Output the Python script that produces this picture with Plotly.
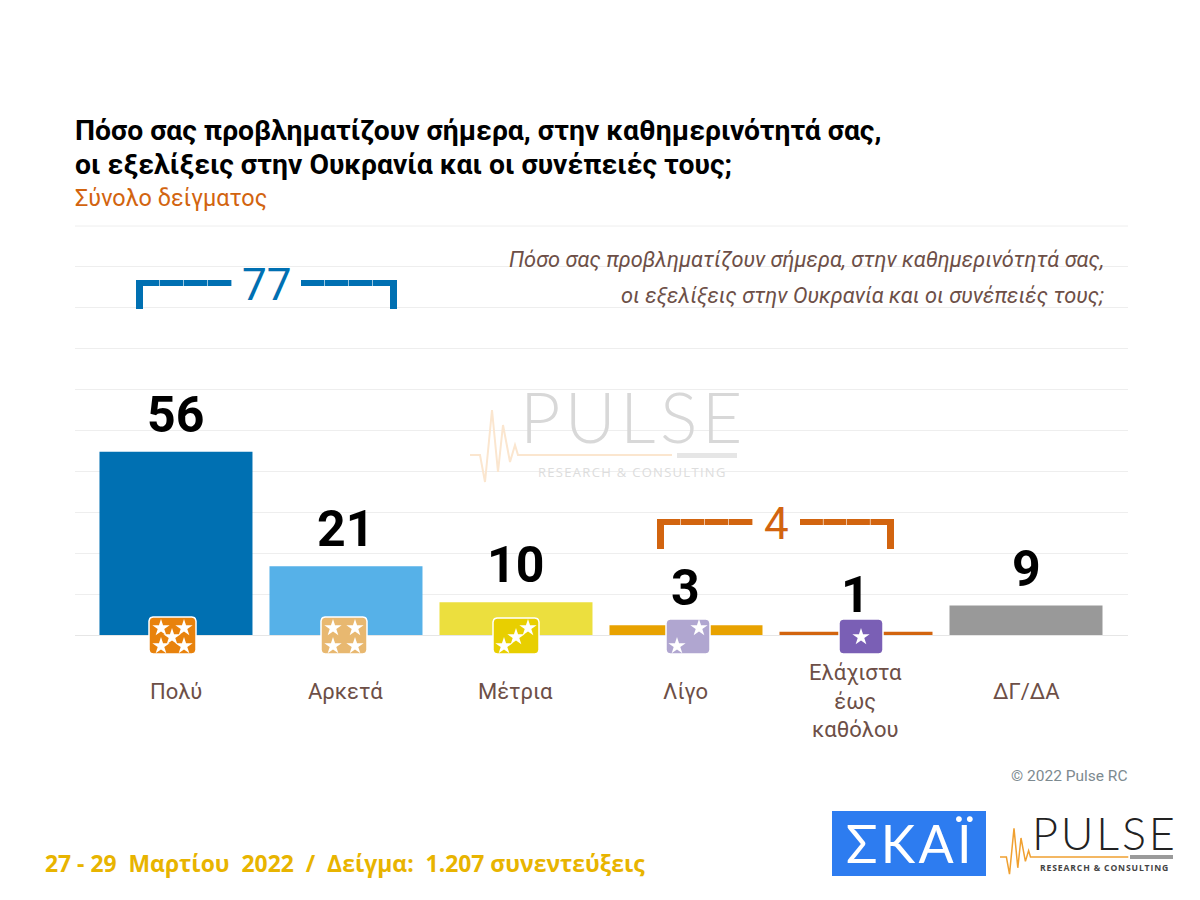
import numpy as np
import plotly.graph_objects as go

categories = ['Πολύ', 'Αρκετά', 'Μέτρια', 'Λίγο', 'Ελάχιστα<br>έως<br>καθόλου', 'ΔΓ/ΔΑ']
values = [56, 21, 10, 3, 1, 9]
bar_colors = ['#0070b2', '#56b1e8', '#ecdf3e', '#e8a200', '#d2640f', '#999999']
grid_ticks = [0, 12.5, 25, 37.5, 50, 62.5, 75, 87.5, 100, 112.5, 125]

NARROW = 'Roboto, sans-serif'
BLUE = '#0070b2'
ORANGE = '#d2640f'
BROWN = '#6d4f47'
HAIR = '\u200a'

# (left, right, top, bottom, colour, star positions) in page pixels
badges = [
    (149, 196, 617, 654, '#e8820c', [(161, 628), (184, 628), (172, 637), (161, 646), (184, 646)]),
    (321, 367, 617, 654, '#e8b870', [(333, 628), (355, 628), (333, 646), (355, 646)]),
    (493, 539, 618, 654, '#e8cf00', [(504, 646), (516, 637), (528, 628)]),
    (666, 710, 619, 654, '#b0a6d0', [(699, 628), (677, 646)]),
    (839, 883, 619, 654, '#7a5fb5', [(861, 637)]),
]

heartbeat = [(0, 0), (10, 0), (15, 27), (22, -45), (28, 17), (33, -30), (40, 7), (45, -10), (48, 0), (202, 0)]


def rounded_rect(x0, x1, y0, y1, r=4):
    # outline points for the filled badge
    xs, ys = [], []
    corners = [(x1 - r, y0 + r, -90), (x1 - r, y1 - r, 0), (x0 + r, y1 - r, 90), (x0 + r, y0 + r, 180)]
    for cx, cy, start in corners:
        for a in np.radians(np.linspace(start, start + 90, 6)):
            xs.append(cx + r * np.cos(a))
            ys.append(cy + r * np.sin(a))
    return xs + xs[:1], ys + ys[:1]


def text(x, y, s, size, color, family=NARROW, anchor='left', bold=False, italic=False, weight=None):
    # annotations carry a 2px pad, take it back so x is the ink edge
    x = x + {'left': -2, 'right': 2, 'center': 0}[anchor]
    return dict(xref='x2', yref='y2', x=x, y=y, text=s, showarrow=False, xanchor=anchor, yanchor='middle',
                align=anchor, font=dict(family=family, size=size, color=color,
                                        weight=weight if weight else (700 if bold else 400),
                                        style='italic' if italic else 'normal'))


def rect(x0, x1, y0, y1, color):
    return dict(type='rect', xref='x2', yref='y2', x0=x0, x1=x1, y0=y0, y1=y1,
                fillcolor=color, line_width=0, layer='above')


def bracket(x0, x1, gap0, gap1, y0, y1, color):
    # dashed looking bracket made of short pieces
    out = [rect(x0, x0 + 7, y0, y1, color), rect(x1 - 7, x1, y0, y1, color)]
    for a, b in [(x0, gap0), (gap1, x1)]:
        step = (b - a) / 4
        for i in range(4):
            out.append(rect(a + i * step, a + (i + 1) * step - 0.6, y0, y0 + 6, color))
    return out


def pulse_line(x, y, scale, color, width):
    pts = [(x + px * scale, y + py * scale) for px, py in heartbeat]
    path = 'M' + ' L'.join(f'{a:.1f},{b:.1f}' for a, b in pts)
    return dict(type='path', xref='x2', yref='y2', path=path, line=dict(color=color, width=width), layer='above')


fig = go.Figure()
fig.add_trace(go.Bar(x=categories, y=values, marker_color=bar_colors, marker_line_width=0, width=0.9,
                     showlegend=False, hoverinfo='x+y'))

# badges + stars sit on a page-sized overlay axis
for x0, x1, y0, y1, color, stars in badges:
    bx, by = rounded_rect(x0, x1, y0, y1)
    fig.add_trace(go.Scatter(x=bx, y=by, xaxis='x2', yaxis='y2', mode='lines', fill='toself', fillcolor=color,
                             line=dict(color='white', width=1.5), showlegend=False, hoverinfo='skip'))
    fig.add_trace(go.Scatter(x=[s[0] for s in stars], y=[s[1] for s in stars], xaxis='x2', yaxis='y2',
                             mode='markers', marker=dict(symbol='star', size=13, color='white', line_width=0),
                             showlegend=False, hoverinfo='skip'))

annotations = [
    text(75, 130, 'Πόσο σας προβληματίζουν σήμερα, στην καθημερινότητά σας,', 28.3, '#000000', bold=True),
    text(75, 164, 'οι εξελίξεις στην Ουκρανία και οι συνέπειές τους;', 28.3, '#000000', bold=True),
    text(75, 198, 'Σύνολο δείγματος', 23.4, ORANGE),
    text(1104, 259, 'Πόσο σας προβληματίζουν σήμερα, στην καθημερινότητά σας,', 21.8, BROWN, anchor='right', italic=True),
    text(1104, 295, 'οι εξελίξεις στην Ουκρανία και οι συνέπειές τους;', 21.8, BROWN, anchor='right', italic=True),
    text(266, 285, '77', 44, BLUE, family='Roboto', anchor='center', weight=400),
    text(776, 524, '4', 44, ORANGE, family='Roboto', anchor='center', weight=400),
    text(1128, 776, '© 2022 Pulse RC', 15.5, '#7d8a90', anchor='right'),
    text(45, 863, '27 - 29  Μαρτίου  2022  /  Δείγμα:  1.207 συνεντεύξεις', 22.9, '#e8b400', family='Open Sans', bold=True),
    text(909, 843, HAIR.join('ΣΚΑΪ'), 52, 'white', family='Lato', anchor='center', weight=400),
    text(1103, 833, HAIR.join('PULSE'), 45, '#222222', family='Lato', anchor='center', weight=300),
    text(1104, 868, HAIR.join('RESEARCH & CONSULTING'), 8.6, '#444444', family='Open Sans', anchor='center', bold=True),
    text(631, 416, HAIR.join('PULSE'), 70, '#d8d8d8', family='Lato', anchor='center', weight=300),
    text(631, 472, HAIR.join('RESEARCH & CONSULTING'), 13, '#dddddd', family='Open Sans', anchor='center'),
]

# value labels and category labels come from the arrays
for cat, val in zip(categories, values):
    annotations.append(dict(x=cat, y=val, xref='x', yref='y', yshift=37, text=str(val), showarrow=False,
                            yanchor='middle', font=dict(family=NARROW, size=50, color='black', weight=700)))
    lines = cat.count('<br>') + 1
    annotations.append(dict(x=cat, y=0, xref='x', yref='y', yshift=-56 - (lines - 1) * 5, text=cat, showarrow=False,
                            yanchor='middle', font=dict(family=NARROW, size=22, color=BROWN)))

shapes = []
shapes += bracket(136, 397, 232, 301, 280, 309, BLUE)
shapes += bracket(657, 894, 753, 800, 519, 549, ORANGE)
shapes.append(rect(832, 986, 811, 876, '#2d7cf0'))
shapes.append(pulse_line(1000, 857, 0.635, '#f0a030', 1.5))
shapes.append(pulse_line(470, 455, 1, '#fbe6cf', 2))
# tiny logo sub-mark, unreadable in the picture
shapes.append(rect(1130, 1173, 855, 859, '#9a9a9a'))
shapes.append(rect(677, 737, 453, 458, '#e6e6e6'))
# top grid line does not get drawn by the axis here
shapes.append(dict(type='line', xref='x2', yref='y2', x0=75, x1=1128, y0=226, y1=226,
                   line=dict(color='#eeeeee', width=1), layer='below'))

fig.update_layout(
    width=1200, height=900,
    margin=dict(l=0, r=0, t=0, b=0),
    plot_bgcolor='rgba(0,0,0,0)', paper_bgcolor='white',
    bargap=0.1,
    annotations=annotations,
    shapes=shapes,
    xaxis=dict(domain=[75 / 1200, 1128 / 1200], range=[-0.594, 5.6], type='category',
               categoryorder='array', categoryarray=categories, showticklabels=False, ticks='', showgrid=False,
               zeroline=False, showline=False),
    yaxis=dict(domain=[265 / 900, 675 / 900], range=[0, 125.3], tickvals=grid_ticks, showticklabels=False,
               gridcolor='#eeeeee', gridwidth=1, zeroline=True, zerolinecolor='#e6e6e6', zerolinewidth=1),
    xaxis2=dict(domain=[0, 1], range=[0, 1200], visible=False, anchor='y2'),
    yaxis2=dict(domain=[0, 1], range=[900, 0], visible=False, anchor='x2'),
)

fig.write_html("out.html", post_script="document.body.style.margin='0'", config={'displayModeBar': False})
